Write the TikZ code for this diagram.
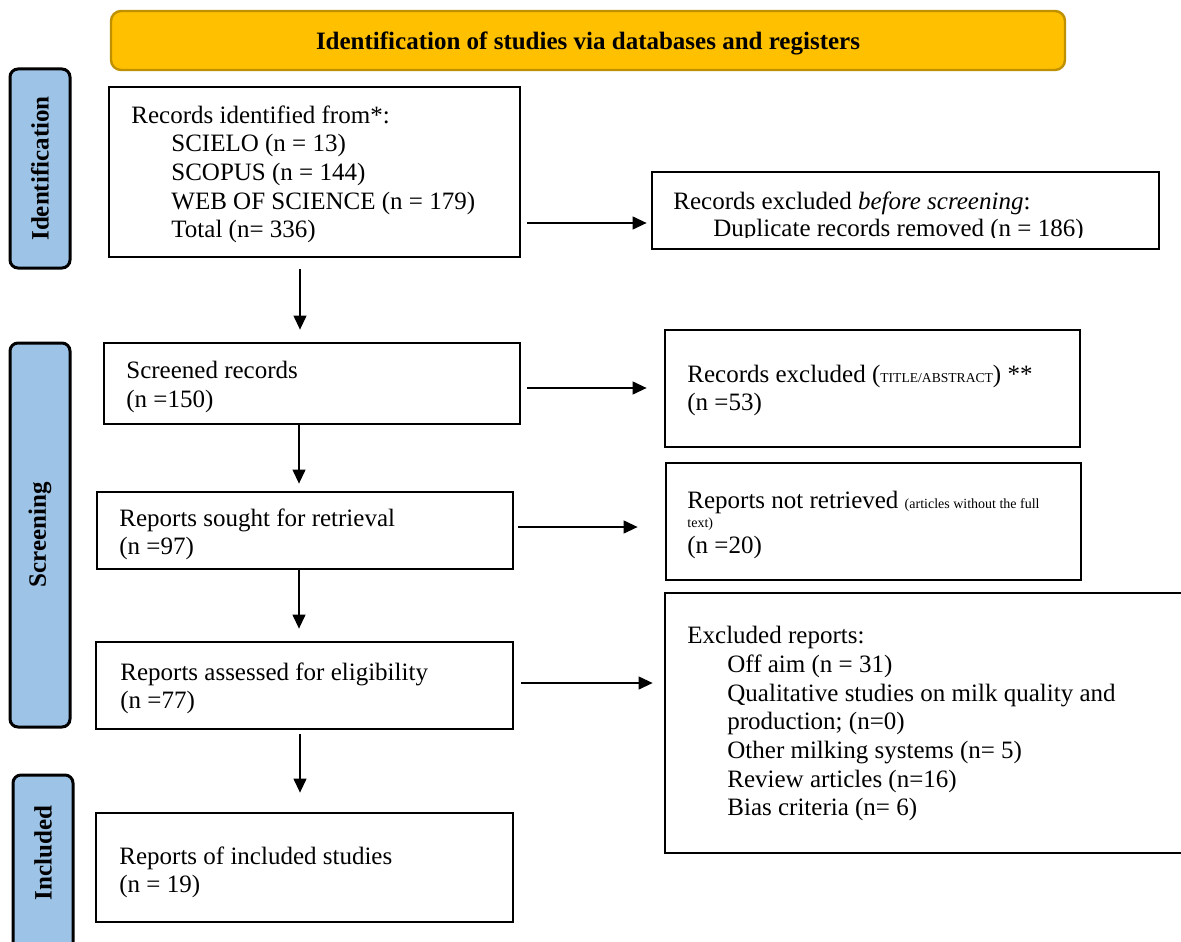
\documentclass[tikz,border=0pt]{standalone}
\usepackage{fontspec}
\setmainfont{Liberation Serif}
\usepackage{xcolor}
\usepackage{tikz}
\usetikzlibrary{arrows.meta, fit, calc}

\definecolor{bannergold}{HTML}{FFC000}
\definecolor{bannerline}{HTML}{BF9000}
\definecolor{sideblue}{HTML}{9DC3E6}

\begin{document}
\begin{tikzpicture}[x=0.5pt, y=-0.5pt,
    >={Triangle[length=7pt, width=6.5pt]},
    box/.style={draw, line width=1.4pt, inner sep=0pt},
    txt/.style={anchor=north west, inner sep=0pt, align=left, font=\fontsize{12.5}{14.35}\selectfont},
    side/.style={draw, line width=1.5pt, fill=sideblue, rounded corners=4pt, inner sep=0pt},
    sidetxt/.style={rotate=90, inner sep=0pt, font=\fontsize{12.5}{14.35}\selectfont\bfseries},
    arr/.style={->, line width=0.6pt}]

    % =================================================================
    % 1. PAGE AND HEADER
    % =================================================================
    \path[use as bounding box, fill=white] (0,0) rectangle (1181,941);

    \node[draw=bannerline, fill=bannergold, line width=1.2pt, rounded corners=5pt, inner sep=0pt,
          fit={(111,11) (1065,70)}] (Banner) {};
    \node[anchor=base, inner sep=0pt, font=\fontsize{12.5}{14.35}\selectfont\bfseries] (BannerText) at (588,50)
        {Identification of studies via databases and registers};

    % =================================================================
    % 2. PHASE LABELS ON THE LEFT
    % =================================================================
    \node[side, fit={(10,69) (70,268)}] (SideIdent) {};
    \node[sidetxt] (SideIdentText) at (SideIdent) {Identification};

    \node[side, fit={(10,343) (70,727)}] (SideScreen) {};
    \node[sidetxt] (SideScreenText) at (SideScreen) {Screening};

    \node[side, fit={(13,775) (73,965)}] (SideIncl) {};
    \node[sidetxt] (SideInclText) at (43,853) {Included};

    % =================================================================
    % 3. MAIN COLUMN
    % =================================================================
    \node[box, fit={(109,87) (520,257)}] (Records) {};
    \node[txt] (RecordsText) at (131,105) {Records identified from*:\\
        \hspace*{20pt}SCIELO (n = 13)\\
        \hspace*{20pt}SCOPUS (n = 144)\\
        \hspace*{20pt}WEB OF SCIENCE (n = 179)\\
        \hspace*{20pt}Total (n= 336)};

    \node[box, fit={(104,343) (520,424)}] (Screened) {};
    \node[txt] (ScreenedText) at (126,361) {Screened records\\(n =150)};

    \node[box, fit={(97,492) (513,569)}] (Sought) {};
    \node[txt] (SoughtText) at (119,508) {Reports sought for retrieval\\(n =97)};

    \node[box, fit={(96,642) (513,729)}] (Assessed) {};
    \node[txt] (AssessedText) at (120,662) {Reports assessed for eligibility\\(n =77)};

    \node[box, fit={(96,813) (513,922)}] (Included) {};
    \node[txt] (IncludedText) at (119,846) {Reports of included studies\\(n = 19)};

    % =================================================================
    % 4. EXCLUSION COLUMN
    % =================================================================
    \node[box, fit={(652,172) (1159,249)}] (ExclBefore) {};
    \begin{scope}
        \clip (652,172) rectangle (1159,237); % second line cut off at the bottom
        \node[txt] (ExclBeforeText) at (673,191) {Records excluded \textit{before screening}:\\[-0.85pt]
            \hspace*{20pt}Duplicate records removed (n = 186)};
    \end{scope}

    \node[box, fit={(665,330) (1080,447)}] (ExclTitle) {};
    \node[txt] (ExclTitleText) at (687,365)
        {Records excluded ({\fontsize{6.8}{8}\selectfont TITLE/ABSTRACT}) **\\[-0.35pt](n =53)};

    \node[box, fit={(666,463) (1081,580)}] (NotRetrieved) {};
    \node[txt] (NotRetrievedText) at (687,491)
        {Reports not retrieved {\fontsize{7}{8}\selectfont (articles without the full}\\[-5pt]
         {\fontsize{7}{8}\selectfont text)}\\[-1.5pt]
         (n =20)};

    \node[box, fit={(665,593) (1195,853)}] (ExclReports) {};
    \node[txt] (ExclReportsText) at (687,626) {Excluded reports:\\
        \hspace*{20pt}Off aim (n = 31)\\
        \hspace*{20pt}Qualitative studies on milk quality and\\
        \hspace*{20pt}production; (n=0)\\
        \hspace*{20pt}Other milking systems (n= 5)\\
        \hspace*{20pt}Review articles (n=16)\\
        \hspace*{20pt}Bias criteria (n= 6)};

    % =================================================================
    % 5. ARROWS
    % =================================================================
    % down the main column
    \draw[arr, shorten >=6pt] ([xshift=-7.25pt, yshift=-5.5pt]Records.south) coordinate (D1) -- (D1 |- Screened.north);
    \draw[arr, shorten >=3.5pt] ([xshift=-6.5pt]Screened.south) coordinate (D2) -- (D2 |- Sought.north);
    \draw[arr, shorten >=6pt] ([xshift=-3pt]Sought.south) coordinate (D3) -- (D3 |- Assessed.north);
    \draw[arr, shorten >=9.5pt] ([xshift=-2.25pt, yshift=-2pt]Assessed.south) coordinate (D4) -- (D4 |- Included.north);

    % across to the exclusions
    \draw[arr, shorten >=2pt] ([xshift=3pt, yshift=-25.5pt]Records.east) coordinate (R1) -- (R1 -| ExclBefore.west);
    \draw[arr, shorten >=8.5pt] ([xshift=3pt, yshift=-2.25pt]Screened.east) coordinate (R2) -- (R2 -| ExclTitle.west);
    \draw[arr, shorten >=13.5pt] ([xshift=2pt, yshift=1.75pt]Sought.east) coordinate (R3) -- (R3 -| NotRetrieved.west);
    \draw[arr, shorten >=5.5pt] ([xshift=3.5pt, yshift=1.25pt]Assessed.east) coordinate (R4) -- (R4 -| ExclReports.west);

\end{tikzpicture}
\end{document}
